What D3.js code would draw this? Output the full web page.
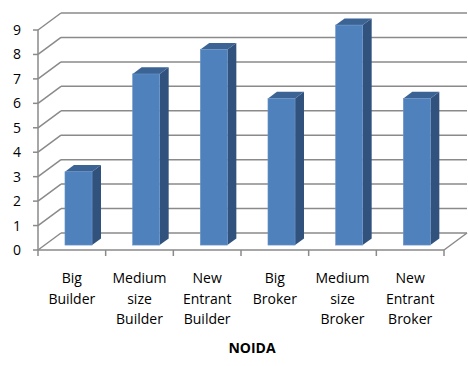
<!DOCTYPE html>
<html>
<head>
<meta charset="utf-8">
<script src="https://cdn.jsdelivr.net/npm/d3@7"></script>
<style>
  body { margin: 0; background: #fff; }
  text { font-family: "Open Sans", "Noto Sans", sans-serif; fill: #000; }
</style>
</head>
<body>
<svg width="468" height="366"></svg>
<script>
// data
const categories = ["Big Builder", "Medium size Builder", "New Entrant Builder",
                    "Big Broker", "Medium size Broker", "New Entrant Broker"];
const labelLines = [["Big", "Builder"], ["Medium", "size", "Builder"], ["New", "Entrant", "Builder"],
                    ["Big", "Broker"], ["Medium", "size", "Broker"], ["New", "Entrant", "Broker"]];
const values = [3, 7, 8, 6, 9, 6];
const yTicks = [0, 1, 2, 3, 4, 5, 6, 7, 8, 9];
const axisTitle = "NOIDA";

const svg = d3.select("svg");

// depth of the 3d box
const depth = {dx: 23, dy: -17};
const off = f => [depth.dx * f, depth.dy * f];

var x = d3.scaleBand()
    .domain(categories)
    .range([38, 444]);

var y = d3.scaleLinear()
    .domain([0, 9])
    .range([250, 30]);

const gridColor = "#8a8a8a";
const grid = svg.append("g")
    .attr("stroke", gridColor)
    .attr("stroke-width", 1.5)
    .attr("fill", "none");

// back wall + left wall gridlines
yTicks.forEach(t => {
    const yf = y(t), yb = y(t) + depth.dy;
    const xl = x.range()[0], xr = x.range()[1];
    grid.append("line")
        .attr("x1", xl).attr("y1", yf)
        .attr("x2", xl + depth.dx).attr("y2", yb);
    grid.append("line")
        .attr("x1", xl + depth.dx).attr("y1", yb)
        .attr("x2", xr + depth.dx).attr("y2", yb);
});

// floor right edge
grid.append("line")
    .attr("x1", x.range()[1]).attr("y1", y(0))
    .attr("x2", x.range()[1] + depth.dx).attr("y2", y(0) + depth.dy);

// front axes
grid.append("line")
    .attr("x1", x.range()[0]).attr("y1", y(9))
    .attr("x2", x.range()[0]).attr("y2", y(0));
grid.append("line")
    .attr("x1", x.range()[0]).attr("y1", y(0))
    .attr("x2", x.range()[1]).attr("y2", y(0));

// y ticks
yTicks.forEach(t => {
    grid.append("line")
        .attr("x1", x.range()[0] - 5).attr("y1", y(t))
        .attr("x2", x.range()[0]).attr("y2", y(t));
});

// category ticks
const bounds = categories.map(c => x(c)).concat([x.range()[1]]);
bounds.forEach(b => {
    grid.append("line")
        .attr("x1", b).attr("y1", y(0))
        .attr("x2", b).attr("y2", y(0) + 6);
});

// bars
const barW = x.bandwidth() * 0.4;
const fFront = 0.29, fBack = 0.68;
const bars = svg.append("g");

categories.forEach((c, i) => {
    const [fx, fy] = off(fFront);
    const [bx, by] = off(fBack);
    const x0 = x(c) + x.bandwidth() / 2 - barW / 2 + fx;
    const x1 = x0 + barW;
    const yTop = y(values[i]) + fy;
    const yBot = y(0) + fy;
    const ddx = bx - fx, ddy = by - fy;

    // side
    bars.append("path")
        .attr("d", d3.line()([[x1, yTop], [x1 + ddx, yTop + ddy], [x1 + ddx, yBot + ddy], [x1, yBot]]) + "Z")
        .attr("fill", "#30527d");
    // top
    bars.append("path")
        .attr("d", d3.line()([[x0, yTop], [x0 + ddx, yTop + ddy], [x1 + ddx, yTop + ddy], [x1, yTop]]) + "Z")
        .attr("fill", "#3b6394");
    // front
    bars.append("rect")
        .attr("x", x0).attr("y", yTop)
        .attr("width", barW).attr("height", yBot - yTop)
        .attr("fill", "#4f81bd")
        .attr("stroke", "#6d95c8")
        .attr("stroke-width", 0.6);
});

// y labels
svg.append("g").selectAll("text")
    .data(yTicks)
    .enter().append("text")
    .attr("x", 21)
    .attr("y", d => y(d) + 5)
    .attr("text-anchor", "end")
    .attr("font-size", 14)
    .text(d => d);

// category labels
categories.forEach((c, i) => {
    const t = svg.append("text")
        .attr("text-anchor", "middle")
        .attr("font-size", 14);
    labelLines[i].forEach((l, j) => {
        t.append("tspan")
            .attr("x", x(c) + x.bandwidth() / 2)
            .attr("y", 283 + j * 20.5)
            .text(l);
    });
});

// axis title
svg.append("text")
    .attr("x", 252)
    .attr("y", 353)
    .attr("text-anchor", "middle")
    .attr("font-size", 14)
    .attr("font-weight", "bold")
    .text(axisTitle);
</script>
</body>
</html>
